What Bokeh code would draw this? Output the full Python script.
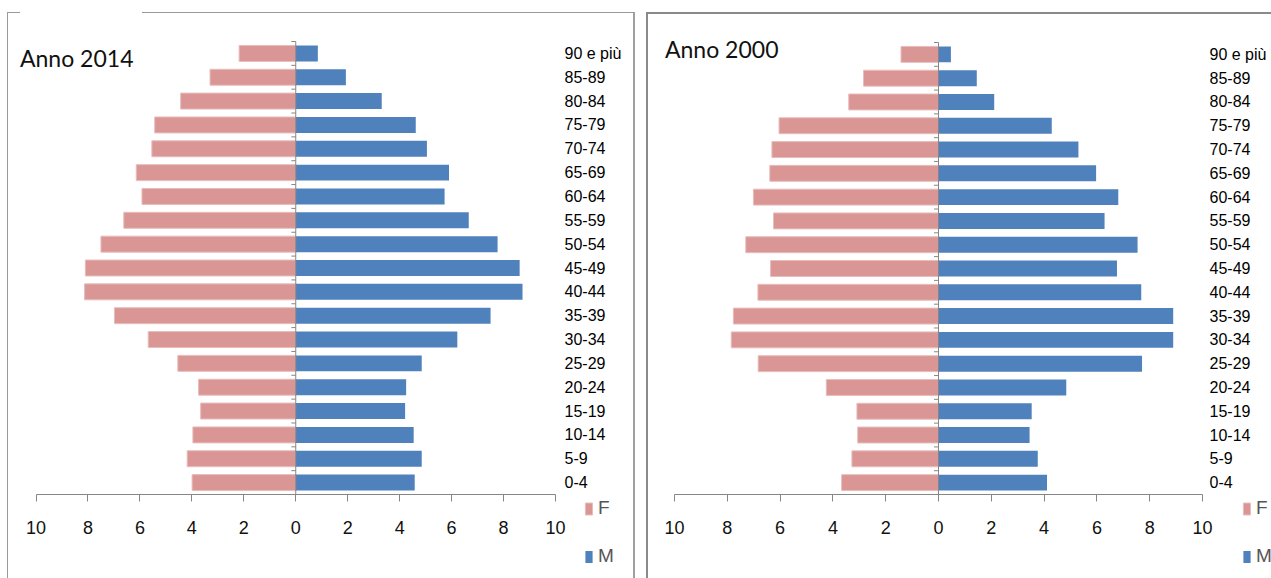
from bokeh.plotting import figure
from bokeh.layouts import row
from bokeh.models import (ColumnDataSource, FixedTicker, Legend, LegendItem,
                          Label)
from bokeh.embed import file_html
from bokeh.resources import INLINE

# Age classes, bottom to top
age_groups = ["0-4", "5-9", "10-14", "15-19", "20-24", "25-29", "30-34",
              "35-39", "40-44", "45-49", "50-54", "55-59", "60-64", "65-69",
              "70-74", "75-79", "80-84", "85-89", "90 e più"]

# Share of population (%) per age class
f_2014 = [3.99, 4.18, 3.96, 3.66, 3.74, 4.54, 5.68, 6.98, 8.13, 8.10,
          7.50, 6.62, 5.92, 6.14, 5.54, 5.43, 4.43, 3.30, 2.18]
m_2014 = [4.58, 4.85, 4.54, 4.21, 4.25, 4.85, 6.22, 7.50, 8.73, 8.62,
          7.77, 6.66, 5.73, 5.90, 5.05, 4.62, 3.31, 1.93, 0.85]

f_2000 = [3.67, 3.28, 3.06, 3.09, 4.25, 6.83, 7.85, 7.77, 6.84, 6.36,
          7.30, 6.25, 7.01, 6.39, 6.31, 6.04, 3.40, 2.84, 1.42]
m_2000 = [4.11, 3.76, 3.45, 3.53, 4.84, 7.71, 8.89, 8.89, 7.68, 6.76,
          7.54, 6.29, 6.81, 5.97, 5.30, 4.29, 2.11, 1.45, 0.47]

x_ticks = [-10, -8, -6, -4, -2, 0, 2, 4, 6, 8, 10]
X_MAX = 10

F_COLOR = "#D99694"
F_EDGE = "#E8BDBC"
M_COLOR = "#4F81BD"
AXIS_GRAY = "#868686"
SANS = "Liberation Sans"
HEIGHT = 578


def frame_lines(lines):
    """CSS background strokes for the box drawn around each chart."""
    imgs, pos, size = [], [], []
    for (x, y, w, h, c) in lines:
        imgs.append(f"linear-gradient({c},{c})")
        pos.append(f"{x}px {y}px")
        size.append(f"{w}px {h}px")
    return {"background-image": ", ".join(imgs),
            "background-position": ", ".join(pos),
            "background-size": ", ".join(size),
            "background-repeat": "no-repeat"}


def pyramid(title, f_vals, m_vals, width, plot_left, plot_w, plot_top,
            plot_bottom, title_xy, cat_standoff, legend_xy, lines):
    n = len(age_groups)
    # the whole canvas is the frame; ranges are padded so that the
    # pyramid itself occupies the box [plot_left, plot_left+plot_w] x
    # [plot_top, plot_bottom]
    ux = plot_w / (2 * X_MAX)
    uy = (plot_bottom - plot_top) / n
    x_range = (-X_MAX - plot_left / ux,
               X_MAX + (width - plot_left - plot_w) / ux)
    y_range = (-0.5 - (HEIGHT - plot_bottom) / uy, n - 0.5 + plot_top / uy)

    p = figure(width=width, height=HEIGHT, output_backend="svg",
               toolbar_location=None, x_range=x_range, y_range=y_range,
               min_border=0, y_axis_location="right",
               styles=frame_lines(lines))
    p.outline_line_color = None
    p.grid.visible = False
    p.background_fill_color = None
    p.border_fill_color = None

    idx = list(range(n))
    src = ColumnDataSource(dict(y=idx, f=[-v for v in f_vals], m=m_vals))
    rf = p.hbar(y="y", left="f", right=0, height=0.67, source=src,
                fill_color=F_COLOR, line_color=F_EDGE, line_width=1)
    rm = p.hbar(y="y", left=0, right="m", height=0.67, source=src,
                fill_color=M_COLOR, line_color=None)

    # central vertical axis with class-boundary ticks
    p.segment(x0=[0], x1=[0], y0=[-0.5], y1=[n - 0.5],
              line_color=AXIS_GRAY, line_width=1)
    bounds = [i + 0.5 for i in range(-1, n)]
    p.segment(x0=[-0.17] * len(bounds), x1=[0] * len(bounds), y0=bounds,
              y1=bounds, line_color=AXIS_GRAY, line_width=1)

    # bottom axis: absolute percentages on both sides
    xa = p.xaxis[0]
    xa.fixed_location = -0.5
    xa.bounds = (-X_MAX, X_MAX)
    xa.ticker = FixedTicker(ticks=x_ticks)
    xa.major_label_overrides = {t: str(abs(t)) for t in x_ticks}
    xa.axis_line_color = AXIS_GRAY
    xa.major_tick_line_color = AXIS_GRAY
    xa.major_tick_in = 0
    xa.major_tick_out = 7
    xa.minor_tick_line_color = None
    xa.major_label_text_font = SANS
    xa.major_label_text_font_size = "18px"
    xa.major_label_text_color = "#111111"
    xa.major_label_standoff = 19

    # age classes on the right
    ya = p.yaxis[0]
    ya.fixed_location = X_MAX
    ya.ticker = FixedTicker(ticks=idx)
    ya.major_label_overrides = {i: g for i, g in zip(idx, age_groups)}
    ya.axis_line_color = None
    ya.major_tick_line_color = None
    ya.minor_tick_line_color = None
    ya.major_tick_out = 0
    ya.major_tick_in = 0
    ya.major_label_standoff = cat_standoff
    ya.major_label_text_font = SANS
    ya.major_label_text_font_size = "16px"
    ya.major_label_text_color = "#000000"

    tx, ty = title_xy
    p.add_layout(Label(x=tx, y=HEIGHT - ty, x_units="screen",
                       y_units="screen", text=title, text_font="Lato",
                       text_font_size="23px", text_color="#111111",
                       text_baseline="middle", text_align="left"))

    lx, ly = legend_xy
    legend = Legend(items=[LegendItem(label="F", renderers=[rf]),
                           LegendItem(label="M", renderers=[rm])],
                    location=(lx, HEIGHT - ly), orientation="vertical",
                    glyph_width=9, glyph_height=15, label_standoff=5,
                    spacing=26, padding=0, margin=0,
                    border_line_color=None, background_fill_alpha=0,
                    label_text_font=SANS, label_text_font_size="19px",
                    label_text_color="#555555")
    p.add_layout(legend, "center")
    return p


left_lines = [
    (7, 12, 1, 566, "#9a9a9a"),
    (7, 12, 13, 1, "#9a9a9a"),
    (142, 12, 493, 1, "#9a9a9a"),
    (633, 12, 2, 566, "#a0a0a0"),
]
right_lines = [
    (6, 12, 2, 566, "#8a8a8a"),
    (6, 12, 625, 2, "#8a8a8a"),
]

p2014 = pyramid("Anno 2014", f_2014, m_2014, width=640, plot_left=35.5,
                plot_w=519.5, plot_top=41, plot_bottom=494,
                title_xy=(19.5, 57), cat_standoff=9, legend_xy=(584, 567),
                lines=left_lines)
p2000 = pyramid("Anno 2000", f_2000, m_2000, width=631, plot_left=34,
                plot_w=528, plot_top=42, plot_bottom=494,
                title_xy=(24.5, 48), cat_standoff=7, legend_xy=(602, 567),
                lines=right_lines)

layout = row(p2014, p2000, spacing=0)
open("out.html", "w").write(file_html(layout, INLINE))
